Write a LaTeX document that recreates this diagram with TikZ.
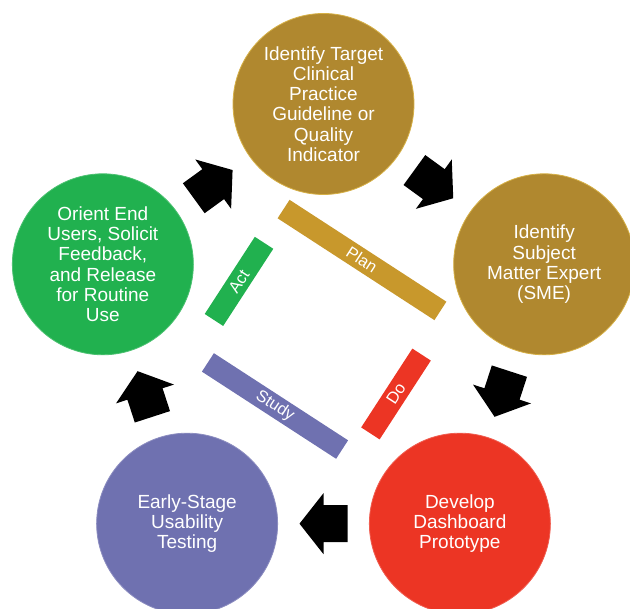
\documentclass[tikz,border=0pt]{standalone}
\usepackage{fontspec}
\setmainfont{Liberation Sans}
\usetikzlibrary{calc}
\definecolor{goldc}{RGB}{176,136,47}
\definecolor{goldrim}{RGB}{214,176,70}
\definecolor{goldbar}{RGB}{200,152,44}
\definecolor{greenc}{RGB}{33,177,79}
\definecolor{redc}{RGB}{236,53,36}
\definecolor{purplec}{RGB}{111,113,176}
\newcommand\cyclearrow[3]{%
  \fill[black, shift={($(#1)!0.5!(#2)$)}, rotate=#3]
    (24,0) -- (0,30.5) -- (0,18.5) -- (-24,18.5) -- (-24,-18.5) -- (0,-18.5) -- (0,-30.5) -- cycle;}
\tikzset{
  stage/.style={circle, minimum size=181pt, inner sep=0pt, align=center, text=white,
    line width=0.8pt, font=\fontsize{19}{20.3}\selectfont},
  phase/.style={rectangle, minimum height=22pt, inner sep=0pt, text=white,
    font=\fontsize{16.5}{16.5}\selectfont},
}
\begin{document}
\begin{tikzpicture}[x=1pt,y=1pt]
\useasboundingbox (0,0) rectangle (630,609);
\coordinate (O) at (323.5,273);
\node[stage, fill=goldc, draw=goldrim] (target) at ($(O)+(90:232pt)$)
  {Identify Target\\Clinical\\Practice\\Guideline or\\Quality\\Indicator};
\node[stage, fill=goldc, draw=goldrim] (sme) at ($(O)+(18:232pt)$)
  {Identify\\Subject\\Matter Expert\\(SME)};
\node[stage, fill=redc, draw=redc!80!white] (proto) at ($(O)+(-54:232pt)$)
  {Develop\\Dashboard\\Prototype};
\node[stage, fill=purplec, draw=purplec!80!white] (usab) at ($(O)+(-126:232pt)$)
  {Early-Stage\\Usability\\Testing};
\node[stage, fill=greenc, draw=greenc!80!white] (orient) at ($(O)+(162:232pt)$)
  {Orient End\\Users, Solicit\\Feedback,\\and Release\\for Routine\\Use};

\cyclearrow{target}{sme}{-36}
\cyclearrow{sme}{proto}{-108}
\cyclearrow{proto}{usab}{180}
\cyclearrow{usab}{orient}{108}
\cyclearrow{orient}{target}{36}

\node[phase, fill=goldbar, minimum width=187pt, rotate=-33] (plan) at (362,349) {Plan};
\node[phase, fill=purplec, minimum width=160pt, rotate=-33] (study) at (275,203) {Study};
\node[phase, fill=greenc, minimum width=92pt, rotate=57] (act) at (239,327.6) {Act};
\node[phase, fill=redc, minimum width=94pt, rotate=57] (do) at (396,215) {Do};
\end{tikzpicture}
\end{document}
